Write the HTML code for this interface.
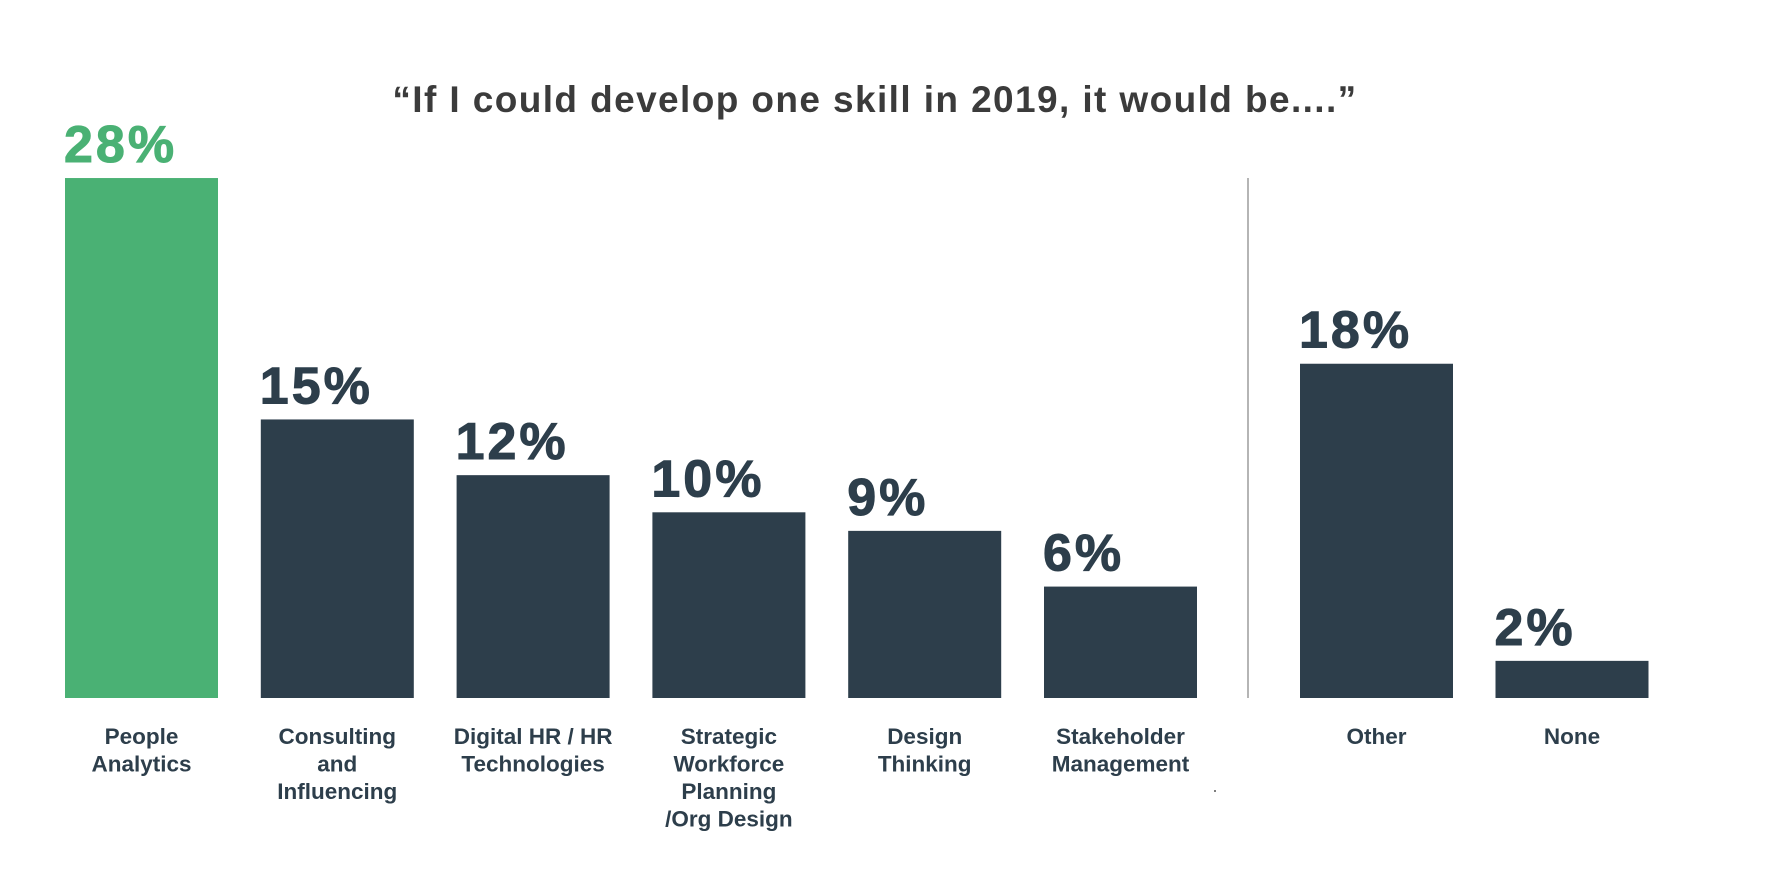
<!DOCTYPE html>
<html><head><meta charset="utf-8"><style>
html,body{margin:0;padding:0;background:#fff;}
svg{display:block;}
text{font-family:"Liberation Sans",sans-serif;font-weight:bold;}
</style></head>
<body>
<svg id="chart" width="1779" height="870" viewBox="0 0 1779 870">
<text x="875" y="112" text-anchor="middle" font-size="37" letter-spacing="1.4" fill="#3b3b3b">“If I could develop one skill in 2019, it would be....”</text>
<line x1="1248" y1="178" x2="1248" y2="698" stroke="#b5b5b5" stroke-width="2"/>
<circle cx="1215" cy="791" r="1" fill="#555"/>
<g id="bars"></g>
</svg>
<script>
const categories = ["People Analytics","Consulting and Influencing","Digital HR / HR Technologies","Strategic Workforce Planning /Org Design","Design Thinking","Stakeholder Management","Other","None"];
const labelLines = [["People","Analytics"],["Consulting","and","Influencing"],["Digital HR / HR","Technologies"],["Strategic","Workforce","Planning","/Org Design"],["Design","Thinking"],["Stakeholder","Management"],["Other"],["None"]];
const values = [28,15,12,10,9,6,18,2];
const valueLabels = ["28%","15%","12%","10%","9%","6%","18%","2%"];

const baseY = 698, pxPerPct = 18.57, barW = 153;
function yScale(v){ return baseY - v * pxPerPct; }
function xLeft(i){ return i < 6 ? 65 + i * 195.8 : 1300 + (i - 6) * 195.5; }

const g = document.getElementById('bars');
const NS = "http://www.w3.org/2000/svg";
values.forEach((v, i) => {
  const color = i === 0 ? "#4ab174" : "#2d3e4b";
  const x = xLeft(i), y = yScale(v);
  const r = document.createElementNS(NS, 'rect');
  r.setAttribute('x', x); r.setAttribute('y', y);
  r.setAttribute('width', barW); r.setAttribute('height', baseY - y);
  r.setAttribute('fill', color);
  
  
  g.appendChild(r);
  const t = document.createElementNS(NS, 'text');
  t.setAttribute('x', x - 1); t.setAttribute('y', y - 16);
  t.setAttribute('font-size', '52'); t.setAttribute('fill', color);
  t.setAttribute('letter-spacing', '3');
  t.setAttribute('stroke', color); t.setAttribute('stroke-width', '1');
  t.textContent = valueLabels[i];
  
  
  g.appendChild(t);
  const c = document.createElementNS(NS, 'text');
  c.setAttribute('x', x + barW / 2); c.setAttribute('y', 744);
  c.setAttribute('font-size', '22.5'); c.setAttribute('fill', '#2d3e4b');
  c.setAttribute('text-anchor', 'middle');
  
  
  labelLines[i].forEach((ln, k) => {
    const s = document.createElementNS(NS, 'tspan');
    s.setAttribute('x', x + barW / 2);
    s.setAttribute('dy', k === 0 ? 0 : 27.5);
    s.textContent = ln;
    c.appendChild(s);
  });
  g.appendChild(c);
});
</script>
</body></html>
